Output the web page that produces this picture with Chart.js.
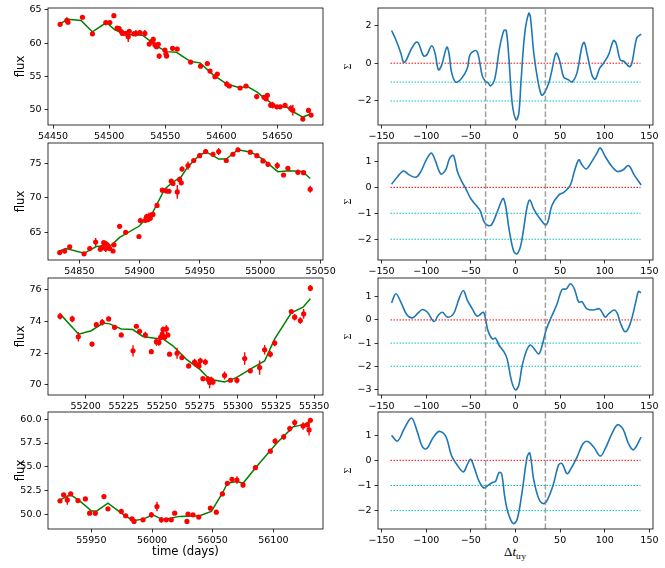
<!DOCTYPE html>
<html><head><meta charset="utf-8">
<script src="https://cdn.jsdelivr.net/npm/chart.js@4"></script>
<style>
body{margin:0;width:665px;height:568px;position:relative;background:#fff;overflow:hidden}
canvas{position:absolute}
.dt{position:absolute;left:465px;width:100px;top:544px;text-align:center;font-family:'Liberation Serif',serif;font-size:13px;line-height:16px;color:#000}
.dt sub{font-size:9px;vertical-align:-3px}
</style>
</head><body>
<div class="dt">Δ<i>t</i><sub>try</sub></div>
<script>
// ---------- light-curve data (time, flux, error) ----------
const lc1T=[54456.3,54462.3,54463.3,54476.2,54485.1,54497.0,54500.6,54504.2,54507.1,54508.9,54511.0,54511.9,54514.9,54517.0,54517.9,54522.0,54523.8,54527.4,54531.8,54535.7,54537.8,54539.3,54540.8,54542.3,54543.8,54544.6,54549.7,54550.6,54551.2,54556.5,54560.7,54572.6,54581.5,54587.5,54589.9,54594.3,54596.4,54604.8,54607.1,54616.7,54622.0,54631.5,54638.1,54639.9,54641.0,54644.0,54645.8,54649.4,54652.4,54656.8,54661.9,54663.7,54672.6,54677.7,54680.0];
const lc1F=[62.83,63.45,63.15,63.9,61.4,63.1,63.1,64.14,62.27,62.17,61.7,61.46,61.46,60.96,61.77,61.4,61.46,61.57,61.46,59.85,60.2,60.55,59.7,59.44,59.8,58.03,58.94,58.33,58.03,59.2,59.1,57.12,56.5,56.9,55.76,54.9,55.3,53.8,53.5,53.2,53.5,51.9,51.8,51.56,52.1,50.6,50.6,50.35,50.35,50.56,50.1,49.85,48.5,49.8,49.1];
const lc1E=[0.3,0.45,0.3,0.3,0.25,0.4,0.35,0.25,0.25,0.25,0.4,0.3,0.3,0.8,0.3,0.3,0.5,0.3,0.5,0.3,0.3,0.4,0.5,0.3,0.3,0.4,0.3,0.5,0.3,0.35,0.35,0.2,0.25,0.25,0.3,0.3,0.3,0.4,0.3,0.2,0.2,0.4,0.3,0.3,0.3,0.4,0.5,0.2,0.2,0.3,0.5,0.8,0.2,0.2,0.3];
const mod1T=[54456.3,54463,54475,54485,54497.6,54505,54515,54530,54542,54550.6,54560,54572.6,54581,54593,54605,54617,54622.6,54631.5,54640.5,54649.4,54658,54664,54672.6,54680];
const mod1F=[62.9,63.6,63.4,61.7,63.1,62.0,61.3,61.16,59.6,58.7,58.6,57.2,57.0,55.15,53.8,53.2,53.5,52.6,51.4,50.35,50.35,49.6,48.8,49.3];

const lc2T=[54833.7,54837.8,54842,54853.9,54858.6,54863.5,54867.4,54869,54870.2,54871.8,54872.4,54873.8,54875.1,54877.9,54878.7,54883.4,54888.4,54899.4,54900.6,54904.7,54905.5,54906.9,54907.7,54908.8,54909.7,54911,54914.4,54918.8,54922.1,54924.3,54926.2,54927.6,54931.2,54933.1,54934.5,54935.1,54940.1,54944.8,54949.7,54954.7,54960.8,54965.5,54971.8,54977.3,54981.5,54991.7,54997.2,55002.2,55006.4,55014.1,55019.3,55022.9,55031.2,55035.9,55041.4];
const lc2F=[62.07,62.3,62.9,61.9,62.66,63.6,62.56,62.8,63.5,62.66,63.3,63.05,62.66,62.3,63.2,65.88,65,64.4,66.7,66.75,67.2,66.85,67.34,67.05,67.54,67.6,68.9,71.1,71,70.95,72.4,72.07,70.85,72.66,72.17,74.17,74.66,75.4,76.1,76.7,76.3,76.7,75.4,76.3,76.95,76.6,76.1,75.34,74.85,74.66,73.3,74.27,73.7,73.63,71.24];
const lc2E=[0.3,0.35,0.2,0.2,0.3,0.6,0.3,0.3,0.3,0.5,0.4,0.3,0.3,0.2,0.3,0.3,0.25,0.2,0.4,0.4,0.5,0.4,0.5,0.4,0.3,0.3,0.2,0.2,0.2,0.2,0.3,0.3,1.0,0.4,0.3,0.35,0.6,0.2,0.35,0.35,0.35,0.5,0.2,0.2,0.2,0.2,0.2,0.3,0.35,0.5,0.25,0.3,0.4,0.25,0.5];
const mod2T=[54833.7,54839,54853.9,54864,54876.5,54883.4,54899.4,54911,54920.7,54926,54934.5,54940,54949.7,54955,54961,54965.5,54971.8,54981.5,54992.5,55002,55014.6,55024,55035,55041.4];
const mod2F=[62.3,62.66,61.97,62.95,63.15,64.27,65.88,67.93,71.24,72.07,73.05,74.5,76.2,76.6,76.1,75.6,75.6,76.95,76.6,75.6,73.78,73.9,73.8,72.8];

const lc3T=[55183.2,55191.2,55195.2,55204.2,55207,55210.9,55215.1,55219,55223.4,55231.1,55233.3,55235.4,55239.2,55243.1,55246.4,55248.1,55249.2,55250.3,55250.8,55251.9,55253,55254,55255.1,55260,55263.2,55267.6,55271.5,55272.6,55274.4,55275.3,55277,55278.6,55280.3,55281.4,55282.5,55283.6,55291.2,55295,55299.3,55304.4,55308.1,55314.2,55317.5,55321.2,55324.1,55335,55337.2,55340.9,55343.1,55347.5];
const lc3F=[74.33,74.16,73.04,72.58,73.8,73.95,74.16,73.63,73.15,72.15,73.7,73.38,73.15,72.1,72.73,72.68,73,73.2,73.49,73,73.53,73.15,71.94,72,71.73,71.2,71.45,71.3,71.2,71.52,70.4,71.45,70.36,70.15,70.32,70.19,70.6,70.3,70.3,71.67,70.89,71.1,72.22,71.94,72.64,74.63,74.27,74.06,74.48,76.1];
const lc3E=[0.2,0.2,0.3,0.15,0.1,0.2,0.15,0.15,0.15,0.35,0.1,0.15,0.2,0.15,0.25,0.2,0.2,0.3,0.2,0.2,0.25,0.15,0.1,0.35,0.1,0.15,0.2,0.15,0.2,0.2,0.1,0.2,0.2,0.35,0.2,0.2,0.25,0.1,0.2,0.4,0.15,0.45,0.3,0.2,0.2,0.1,0.2,0.2,0.3,0.2];
const mod3T=[55183.2,55195.4,55203.7,55211.4,55215.8,55223.4,55231,55237.6,55245.3,55250.8,55257.3,55266,55274.8,55281.4,55291.2,55298.9,55309.8,55317.5,55324.1,55335,55342.7,55347.5];
const mod3F=[74.48,73.2,73.42,73.9,73.85,73.53,73.49,73.06,72.94,72.9,72.47,71.63,71.0,70.36,70.19,70.46,71.1,71.52,72.9,74.54,74.9,75.43];

const lc4T=[55924.2,55927.2,55930.2,55933,55939,55945.1,55948.6,55953.3,55960.4,55963.7,55974.7,55978.3,55983.5,55985.2,55992.6,55999.5,56004.1,56007.7,56011.8,56015.9,56018.7,56028.8,56029.7,56033.8,56038.5,56048.1,56053,56058,56062.1,56065.9,56070,56075,56085.2,56097.5,56101.4,56108.5,56113.5,56117.6,56124.5,56128,56129.4,56130.5];
const lc4F=[51.4,52.03,51.5,52.13,51.43,51.6,50.1,50.1,51.85,50.56,50.28,49.83,49.5,49.23,49.4,49.93,50.8,49.4,49.4,49.4,50.1,49.23,50,49.93,49.69,50.63,50.2,52.13,53.25,53.67,53.6,53.08,54.9,56.64,57.7,58.15,59.02,59.65,59.3,59.44,58.88,59.9];
const lc4E=[0.2,0.2,0.5,0.15,0.2,0.15,0.15,0.25,0.2,0.2,0.25,0.15,0.15,0.2,0.15,0.3,0.5,0.3,0.15,0.2,0.2,0.2,0.2,0.15,0.15,0.15,0.2,0.2,0.15,0.2,0.4,0.3,0.15,0.15,0.3,0.3,0.3,0.35,0.4,0.3,0.6,0.2];
const mod4T=[55924.2,55933,55940.4,55950,55954,55963.7,55974.7,55984.3,55992.6,56000.8,56009,56022.8,56039.3,56048.9,56058,56062,56070,56075,56085,56102.5,56116.2,56124.5,56130.5];
const mod4F=[51.5,52.03,51.4,50.35,50.28,51.15,50.1,49.3,49.47,49.93,49.4,49.76,49.83,50.28,52.2,53.25,53.43,53.25,54.83,57.45,59.2,59.44,59.65];

// ---------- significance curves (lag, sigma) ----------
const sig1X=[-138.8,-134,-128.4,-125.4,-122.8,-117.2,-111.6,-108.7,-103.1,-99.4,-93.8,-90.1,-86.3,-82.6,-77,-74.4,-71.8,-67,-60.3,-54,-51,-44.7,-41.7,-37.2,-33.5,-30.9,-27.9,-23.1,-17.9,-13,-10.4,-7.4,-3.7,0.7,3.7,6.3,10.4,14.9,16.7,20.5,24.9,29,31.6,37.2,40.9,45.4,49.5,54,59.5,63.3,68.9,74.4,77,80,85.6,89.3,94.2,98.6,104.2,109.8,112.8,117.2,121.7,127.3,130.3,135.8,140.7];
const sig1Y=[1.73,1.24,0.53,0.05,0.12,0.71,1.1,1.06,0.39,0.44,0.92,0.53,-0.35,-0.09,0.85,0.5,-0.44,-1.0,-0.8,-0.27,0.44,0.67,0.44,-0.67,-0.97,-1.03,-1.2,-0.8,0.8,1.73,1.73,0.27,-2.12,-3.0,-2.65,-0.88,1.59,2.65,2.44,0.53,-0.88,-1.68,-1.63,-1.06,-0.35,0.53,0.12,-0.74,-0.88,-1.0,-0.5,0.88,1.1,0.53,-0.62,-0.85,-0.27,0,0.44,1.2,1.03,0.18,0.09,-0.18,0,1.33,1.54];
const sig2X=[-138.8,-132.1,-125.4,-119.1,-111.6,-106,-99.4,-94.2,-90.1,-83.7,-78.2,-73.7,-69.5,-65.1,-60.6,-55.8,-50.2,-42.8,-39.8,-35.4,-31.6,-26.8,-20.5,-14.1,-11.2,-6.7,-1.9,1.9,6.3,13,16,20.5,26,34.6,40.9,48.4,54,61.4,65.9,70.8,74.4,79.3,85.6,91.2,94.9,100.5,108,114.3,120.3,126.6,132.9,140.7];
const sig2Y=[0.12,0.41,0.63,0.48,0.39,0.61,1.1,1.32,1.06,0.52,0.67,1.13,1.23,0.61,0.25,-0.04,-0.43,-0.75,-0.88,-1.31,-1.46,-1.44,-0.95,-0.43,-0.69,-1.72,-2.47,-2.56,-2.18,-0.75,-0.49,-0.84,-1.14,-1.44,-0.69,-0.3,-0.19,0.09,0.61,1.06,0.87,0.71,1.0,1.32,1.52,1.19,0.8,0.61,0.67,0.84,0.48,0.09];
const sig3X=[-138.8,-134,-128.4,-121.7,-115.4,-109,-104.2,-98.6,-91.2,-86.7,-81.9,-76.3,-69.5,-63.3,-58.4,-53.9,-48.4,-42.8,-36.1,-33.5,-30.9,-26,-22.3,-18.6,-13,-9.3,-4.5,0,3.7,7.4,12.3,16.7,21.2,26,29.8,34.6,40.9,46.5,52.1,56.9,61.4,65.9,70.8,74.4,80,87.5,94.2,100.5,104.2,110.5,114.3,117.2,122.8,128.4,135.1,137.7,140.7];
const sig3Y=[0.74,1.13,0.77,0.22,0.09,0.3,0.45,0.33,-0.07,0.19,0.33,0.12,0.26,0.91,1.27,0.84,0.48,0.16,0.33,0.04,-0.46,-0.82,-0.79,-1.08,-1.37,-1.69,-2.63,-3.02,-2.82,-1.98,-1.33,-1.08,-1.26,-1.47,-1.11,-0.39,0.19,0.69,1.31,1.34,1.56,1.34,0.77,0.79,0.48,0.43,0.48,0.12,0.26,0.43,0.26,-0.1,-0.51,-0.17,0.84,1.23,1.17];
const sig4X=[-138.8,-132.1,-124.7,-116.5,-110.5,-104.2,-99.4,-93,-85.6,-78.2,-71.8,-65.1,-58.4,-54,-50.2,-45.8,-40.9,-35.4,-31.6,-26.8,-22.3,-18.6,-15.6,-12.3,-8.6,-2.6,1.9,7.4,13,16,20.5,26,30.9,35.4,42.1,48.4,52.1,57.7,62.1,68.9,75.6,80.8,87.5,95,100.5,108,114.3,120.3,126.6,132.1,140.7];
const sig4Y=[0.99,0.77,1.25,1.68,1.19,0.53,0.46,0.86,1.15,0.96,0.2,-0.2,-0.46,-0.17,0.04,-0.33,-0.83,-1.1,-1.02,-0.9,-0.83,-0.49,-0.53,-1.39,-2.05,-2.51,-2.34,-1.25,0.13,0.29,-0.79,-1.52,-1.72,-1.59,-0.99,-0.17,-0.13,-0.53,-0.33,0.13,0.66,0.75,0.53,0.17,0.46,1.06,1.41,1.25,0.66,0.42,0.92];

const lagMarks=[-33.5,33.5];
const refLevels=[0,-1,-2];
const lagRange=[-140,140];

// ---------- tick labels ----------
const lcXTicks=[[54450,54500,54550,54600,54650],[54850,54900,54950,55000,55050],[55200,55225,55250,55275,55300,55325,55350],[55950,56000,56050,56100]];
const lcYTicks=[[50,55,60,65],[65,70,75],[70,72,74,76],[50,52.5,55,57.5,60]];
const sigXTicks=[-150,-100,-50,0,50,100,150];
const sigYTicks=[[-2,0,2],[-2,-1,0,1],[-3,-2,-1,0,1],[-2,-1,0,1]];

// ---------- axis limits ----------
const lcXLim=[[54445.5,54690.6],[54824,55052],[55175.3,55355.8],[55914.3,56140.9]];
const lcYLim=[[47.6,65.3],[61.0,77.93],[69.37,76.74],[48.43,60.77]];
const sigXLim=[-154,154];
const sigYLim=[[-3.27,2.92],[-2.8,1.71],[-3.24,1.81],[-2.73,1.92]];

Chart.defaults.font.family="'DejaVu Sans', sans-serif";
Chart.defaults.font.size=9.5;
Chart.defaults.color='#000';

const frame={id:'frame',afterDatasetsDraw(chart){const a=chart.chartArea,c=chart.ctx;c.save();c.strokeStyle='#000';c.lineWidth=0.8;c.strokeRect(a.left,a.top,a.right-a.left,a.bottom-a.top);c.restore();}};
const fmt=(v,dec)=>(dec?Number(v).toFixed(dec):String(v)).replace('-','\u2212');

const plotTops=[8,143,278,412];
const xAxisH=[22,22,22,39];
const PLOT_H=117;

function panel(o){
  const cv=document.createElement('canvas');
  const h=6+PLOT_H+o.xh;
  cv.width=o.w;cv.height=h;
  cv.style.left=o.left+'px';cv.style.top=(o.top-6)+'px';
  document.body.appendChild(cv);
  const grid={display:true,drawOnChartArea:false,drawTicks:true,tickLength:3.5,color:'#000',lineWidth:0.8};
  return new Chart(cv,{
    type:'line',
    data:{datasets:o.datasets},
    options:{
      responsive:false,animation:false,events:[],
      layout:{padding:{top:6,right:o.padR,left:0,bottom:0}},
      plugins:{legend:{display:false},tooltip:{enabled:false}},
      scales:{
        x:{type:'linear',min:o.xLim[0],max:o.xLim[1],grid:grid,border:{display:false},
          afterBuildTicks:s=>{s.ticks=o.xTicks.map(v=>({value:v}));},
          afterFit:s=>{s.height=o.xh;s.paddingLeft=0;s.paddingRight=0;},
          ticks:{padding:2,maxRotation:0,autoSkip:false,callback:v=>fmt(v,0)},
          title:o.xTitle||{display:false}},
        y:{type:'linear',min:o.yLim[0],max:o.yLim[1],grid:grid,border:{display:false},
          afterBuildTicks:s=>{s.ticks=o.yTicks.map(v=>({value:v}));},
          afterFit:s=>{s.width=48;s.paddingTop=0;s.paddingBottom=0;},
          ticks:{padding:3,autoSkip:false,callback:v=>fmt(v,o.yDec||0)},
          title:o.yTitle}
      }
    },
    plugins:[frame]
  });
}

const lcSets=[[lc1T,lc1F,lc1E,mod1T,mod1F],[lc2T,lc2F,lc2E,mod2T,mod2F],[lc3T,lc3F,lc3E,mod3T,mod3F],[lc4T,lc4F,lc4E,mod4T,mod4F]];
const sigSets=[[sig1X,sig1Y],[sig2X,sig2Y],[sig3X,sig3Y],[sig4X,sig4Y]];

for(let r=0;r<4;r++){
  const [T,F,E,MT,MF]=lcSets[r];
  const pts=T.map((t,i)=>({x:t,y:F[i]}));
  const err=[];T.forEach((t,i)=>{err.push({x:t,y:F[i]-E[i]},{x:t,y:F[i]+E[i]},{x:t,y:null});});
  const mod=MT.map((t,i)=>({x:t,y:MF[i]}));
  panel({left:0,top:plotTops[r],w:345,padR:22,xh:xAxisH[r],
    xLim:lcXLim[r],yLim:lcYLim[r],xTicks:lcXTicks[r],yTicks:lcYTicks[r],yDec:r===3?1:0,
    yTitle:{display:true,text:'flux',font:{size:11.7},padding:{top:13.5,bottom:0}},
    xTitle:r===3?{display:true,text:'time (days)',font:{size:11.7},padding:{top:0,bottom:9}}:null,
    datasets:[
      {data:pts,showLine:false,pointRadius:2.6,pointBackgroundColor:'#ff0000',pointBorderWidth:0,pointHoverRadius:0},
      {data:err,borderColor:'#ff0000',borderWidth:1.4,pointRadius:0,spanGaps:false},
      {data:mod,borderColor:'#008000',borderWidth:1.5,pointRadius:0,tension:0}
    ]});

  const [SX,SY]=sigSets[r];
  const yl=sigYLim[r];
  const ds=[];
  lagMarks.forEach(l=>ds.push({data:[{x:l,y:yl[0]},{x:l,y:yl[1]}],borderColor:'rgba(128,128,128,0.75)',borderWidth:1.5,borderDash:[5.5,2.4],pointRadius:0}));
  ds.push({data:SX.map((x,i)=>({x:x,y:SY[i]})),borderColor:'#1f77b4',borderWidth:1.6,pointRadius:0,tension:0.35});
  refLevels.forEach((lv,k)=>ds.push({data:[{x:lagRange[0],y:lv},{x:lagRange[1],y:lv}],borderColor:k===0?'#ff0000':'#00c4c4',borderWidth:1,borderDash:[1.5,1.5],pointRadius:0}));
  panel({left:330,top:plotTops[r],w:335,padR:12,xh:xAxisH[r],
    xLim:sigXLim,yLim:yl,xTicks:sigXTicks,yTicks:sigYTicks[r],
    yTitle:{display:true,text:'Σ',font:{size:10,family:"'Liberation Serif', serif"},padding:{top:12,bottom:0}},
    datasets:ds});
}
</script>
</body></html>
